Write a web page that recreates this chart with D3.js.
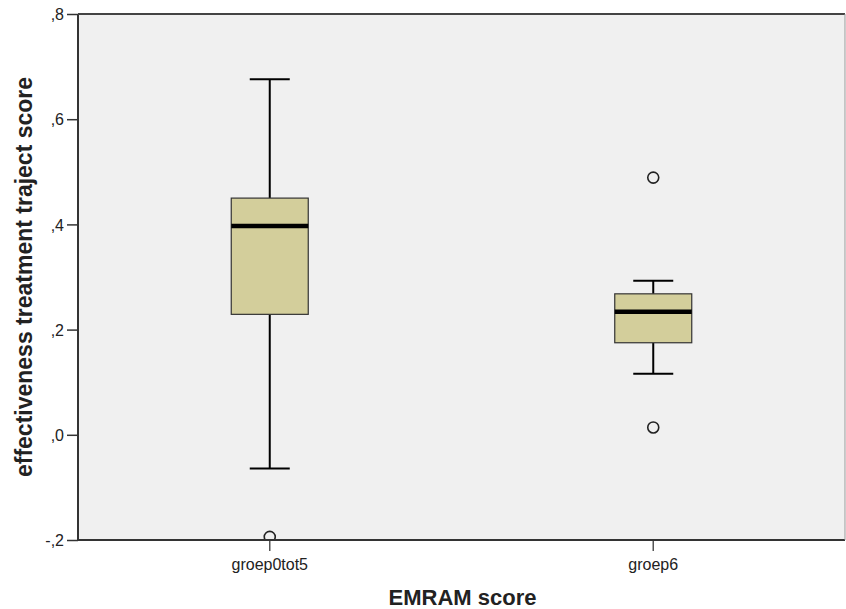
<!DOCTYPE html>
<meta charset="utf-8">
<script src="https://d3js.org/d3.v7.min.js"></script>
<style>
  body { margin: 0; background: #fff; }
  text { font-family: Arial, "Liberation Sans", sans-serif; }
</style>
<svg id="chart" width="846" height="609"></svg>
<script>
  // data
  const groups = ["groep0tot5", "groep6"]
  const whiskerLow = [-0.064, 0.116]
  const q1 = [0.229, 0.175]
  const median = [0.397, 0.234]
  const q3 = [0.450, 0.268]
  const whiskerHigh = [0.676, 0.293]
  const outliers = [[-0.194], [0.489, 0.014]]
  const yTicks = [-0.2, 0, 0.2, 0.4, 0.6, 0.8]

  const svg = d3.select("#chart")
  const margin = {top: 14, right: 1, bottom: 69, left: 78}
  const width = svg.attr("width") - margin.left - margin.right
  const height = svg.attr("height") - margin.top - margin.bottom

  const x = d3.scaleBand().domain(groups).range([0, width]).padding(0)
  const y = d3.scaleLinear().domain([-0.2, 0.8]).range([height, 0])

  const g = svg.append("g").attr("transform", "translate(" + margin.left + "," + margin.top + ")")

  g.append("rect")
    .attr("width", width).attr("height", height)
    .attr("fill", "#f0f0f0")

  g.append("clipPath").attr("id", "clip")
    .append("rect").attr("width", width).attr("height", height)

  // SPSS style: comma decimal, no leading zero
  const fmt = d => d3.format(".1f")(d).replace("−", "-").replace(".", ",").replace(/^(-?)0,/, "$1,")

  // y axis
  const yAxis = g.append("g")
    .call(d3.axisLeft(y).tickValues(yTicks).tickSize(11).tickPadding(3).tickFormat(fmt))
  yAxis.select(".domain").remove()
  yAxis.selectAll("line").attr("stroke", "#333").attr("stroke-width", 1.5)
  yAxis.selectAll("text").attr("fill", "#222").style("font-size", "16px").attr("dy", "0.35em")

  // x axis ticks
  const xAxis = g.append("g").attr("transform", "translate(0," + height + ")")
    .call(d3.axisBottom(x).tickSize(11).tickPadding(8))
  xAxis.select(".domain").remove()
  xAxis.selectAll("line").attr("stroke", "#555").attr("stroke-width", 1.5)
  xAxis.selectAll("text").attr("fill", "#222").style("font-size", "16px")

  const boxW = 77, capW = 40
  const plot = g.append("g").attr("clip-path", "url(#clip)")

  groups.forEach((grp, i) => {
    const cx = x(grp) + x.bandwidth() / 2
    // whiskers
    plot.append("line").attr("x1", cx).attr("x2", cx)
      .attr("y1", y(whiskerHigh[i])).attr("y2", y(q3[i]))
      .attr("stroke", "#000").attr("stroke-width", 2)
    plot.append("line").attr("x1", cx).attr("x2", cx)
      .attr("y1", y(q1[i])).attr("y2", y(whiskerLow[i]))
      .attr("stroke", "#000").attr("stroke-width", 2)
    ;[whiskerHigh[i], whiskerLow[i]].forEach(v => {
      plot.append("line").attr("x1", cx - capW / 2).attr("x2", cx + capW / 2)
        .attr("y1", y(v)).attr("y2", y(v))
        .attr("stroke", "#000").attr("stroke-width", 2)
    })
    // box
    plot.append("rect")
      .attr("x", cx - boxW / 2).attr("width", boxW)
      .attr("y", y(q3[i])).attr("height", y(q1[i]) - y(q3[i]))
      .attr("fill", "#d3ce9b").attr("stroke", "#333").attr("stroke-width", 1.2)
    // median
    plot.append("line").attr("x1", cx - boxW / 2).attr("x2", cx + boxW / 2)
      .attr("y1", y(median[i])).attr("y2", y(median[i]))
      .attr("stroke", "#000").attr("stroke-width", 4.5)
    // outliers
    outliers[i].forEach(v => {
      plot.append("circle").attr("cx", cx).attr("cy", y(v)).attr("r", 5.5)
        .attr("fill", "none").attr("stroke", "#222").attr("stroke-width", 1.6)
    })
  })

  // frame
  g.append("line").attr("x1", 0).attr("x2", 0).attr("y1", 0).attr("y2", height)
    .attr("stroke", "#333").attr("stroke-width", 2)
  g.append("line").attr("x1", 0).attr("x2", width).attr("y1", 0).attr("y2", 0)
    .attr("stroke", "#444").attr("stroke-width", 2)
  g.append("line").attr("x1", 0).attr("x2", width).attr("y1", height).attr("y2", height)
    .attr("stroke", "#333").attr("stroke-width", 2)
  g.append("line").attr("x1", width).attr("x2", width).attr("y1", 0).attr("y2", height)
    .attr("stroke", "#999").attr("stroke-width", 1)

  // axis titles
  svg.append("text")
    .attr("x", margin.left + width / 2 + 1).attr("y", 605)
    .attr("text-anchor", "middle")
    .style("font-size", "22px").style("font-weight", "bold").attr("fill", "#222")
    .text("EMRAM score")
  svg.append("text")
    .attr("transform", "translate(32," + (margin.top + height / 2) + ") rotate(-90)")
    .attr("text-anchor", "middle")
    .style("font-size", "23px").style("font-weight", "bold").attr("fill", "#222")
    .text("effectiveness treatment traject score")
</script>
